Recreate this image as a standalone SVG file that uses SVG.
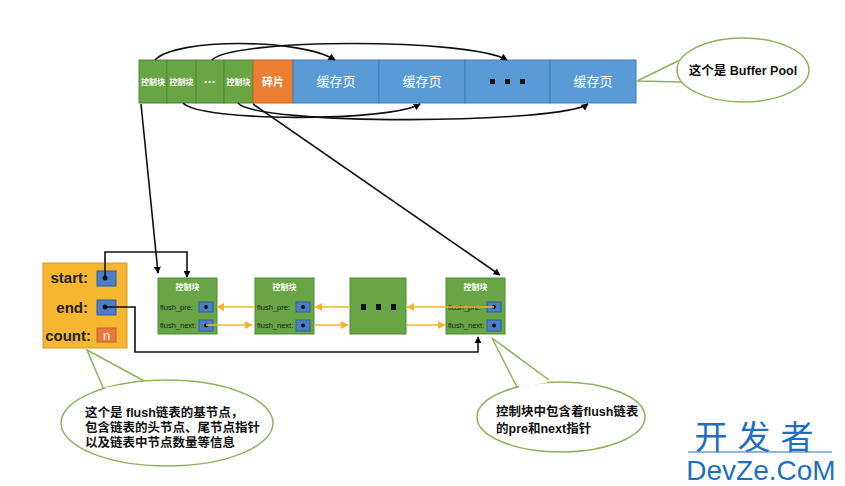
<svg xmlns="http://www.w3.org/2000/svg" width="845" height="486" viewBox="0 0 845 486">
<defs>
<marker id="ab" viewBox="0 0 10 10" refX="9" refY="5" markerWidth="7" markerHeight="7" orient="auto" markerUnits="userSpaceOnUse"><path d="M0,0 L10,5 L0,10 z" fill="#000"/></marker>
<marker id="ay" viewBox="0 0 10 10" refX="9" refY="5" markerWidth="8" markerHeight="8" orient="auto" markerUnits="userSpaceOnUse"><path d="M0,0 L10,5 L0,10 z" fill="#F2B431"/></marker>
</defs>
<style>
.t{font-family:"Liberation Sans","Noto Sans CJK SC",sans-serif}
.g{fill:#69A544;stroke:#4F8A35;stroke-width:1}
.b{fill:#5B9BD5;stroke:#3F7DB5;stroke-width:1}
.cb{fill:#fff;font-size:8px;font-weight:bold;text-anchor:middle}
.hy{fill:#fff;font-size:13px;text-anchor:middle}
.fl{fill:#1a1a1a;font-size:7.5px}
.sq{fill:#4A7FC8;stroke:#2F5E9E;stroke-width:1}
.dot{fill:#111}
.blk{fill:none;stroke:#111;stroke-width:1.6}
.yl{fill:none;stroke:#F2B431;stroke-width:1.6}
.bub{fill:#fff;stroke:#8DB35C;stroke-width:1.5}
.bt{fill:#111;font-size:12.5px;font-weight:bold}
</style>
<rect width="845" height="486" fill="#fff"/>

<g id="bufferpool">
<rect class="g" x="139" y="60" width="28" height="43"/>
<rect class="g" x="167" y="60" width="29" height="43"/>
<rect class="g" x="196" y="60" width="28" height="43"/>
<rect class="g" x="224" y="60" width="29" height="43"/>
<rect x="253" y="60" width="40" height="43" fill="#ED7D31" stroke="#C9652A"/>
<rect class="b" x="293" y="60" width="86" height="43"/>
<rect class="b" x="379" y="60" width="86" height="43"/>
<rect class="b" x="465" y="60" width="85" height="43"/>
<rect class="b" x="550" y="60" width="86" height="43"/>
<text class="t cb" x="153" y="85">控制块</text>
<text class="t cb" x="181.5" y="85">控制块</text>
<text class="t" x="210" y="86" fill="#fff" font-size="12" font-weight="bold" text-anchor="middle">···</text>
<text class="t cb" x="238.5" y="85">控制块</text>
<text class="t" x="273" y="86" fill="#fff" font-size="11" font-weight="bold" text-anchor="middle">碎片</text>
<text class="t hy" x="336" y="86">缓存页</text>
<text class="t hy" x="422" y="86">缓存页</text>
<rect x="490" y="79" width="5" height="5" fill="#111"/>
<rect x="505" y="79" width="5" height="5" fill="#111"/>
<rect x="520" y="79" width="5" height="5" fill="#111"/>
<text class="t hy" x="593" y="86">缓存页</text>
</g>

<g id="callout-bufferpool">
<path class="bub" d="M680,60 L637,81 L683,82"/>
<ellipse class="bub" cx="743" cy="70" rx="66" ry="32"/>
<path d="M681,61 L683,81" stroke="#fff" stroke-width="3"/>
<text class="t bt" x="743" y="75" text-anchor="middle">这个是 Buffer Pool</text>
</g>

<g id="base-node">
<rect x="43" y="263" width="84" height="85" fill="#F5B730" stroke="#D89A20" stroke-width="1"/>
<text class="t" x="88" y="283" font-size="15" font-weight="bold" fill="#222" text-anchor="end">start:</text>
<text class="t" x="88" y="313" font-size="15" font-weight="bold" fill="#222" text-anchor="end">end:</text>
<text class="t" x="91" y="341" font-size="15" font-weight="bold" fill="#222" text-anchor="end">count:</text>
<rect class="sq" x="97" y="271" width="19" height="15"/>
<circle class="dot" cx="105" cy="278" r="2.5"/>
<rect class="sq" x="97" y="300" width="19" height="15"/>
<circle class="dot" cx="105" cy="307" r="2.5"/>
<rect x="97" y="328" width="19" height="14" fill="#E8793A" stroke="#C9652A"/>
<text class="t" x="106.5" y="340" font-size="13" fill="#fff" text-anchor="middle">n</text>
</g>

<g id="node1">
<rect class="g" x="158" y="278" width="59" height="56"/>
<text class="t cb" x="187.5" y="290">控制块</text>
<text class="t fl" x="160" y="310">flush_pre:</text>
<text class="t fl" x="160" y="328">flush_next:</text>
<rect class="sq" x="199" y="302" width="14" height="10"/>
<circle class="dot" cx="206" cy="307" r="2"/>
<rect class="sq" x="199" y="320" width="14" height="11"/>
<circle class="dot" cx="206" cy="325.5" r="2"/>
</g>

<g id="node2">
<rect class="g" x="255" y="278" width="59" height="56"/>
<text class="t cb" x="284.5" y="290">控制块</text>
<text class="t fl" x="257" y="310">flush_pre:</text>
<text class="t fl" x="257" y="328">flush_next:</text>
<rect class="sq" x="296" y="302" width="14" height="10"/>
<circle class="dot" cx="303" cy="307" r="2"/>
<rect class="sq" x="296" y="320" width="14" height="11"/>
<circle class="dot" cx="303" cy="325.5" r="2"/>
</g>

<g id="node3">
<rect class="g" x="350" y="278" width="56" height="56"/>
<rect x="361" y="304" width="5" height="6" fill="#111"/>
<rect x="376" y="304" width="5" height="6" fill="#111"/>
<rect x="391" y="304" width="5" height="6" fill="#111"/>
</g>

<g id="node4">
<rect class="g" x="446" y="278" width="59" height="56"/>
<text class="t cb" x="475.5" y="290">控制块</text>
<text class="t fl" x="448" y="310">flush_pre:</text>
<text class="t fl" x="448" y="328">flush_next:</text>
<rect class="sq" x="487" y="302" width="14" height="10"/>
<circle class="dot" cx="494" cy="307" r="2"/>
<rect class="sq" x="487" y="320" width="14" height="11"/>
<circle class="dot" cx="494" cy="325.5" r="2"/>
</g>

<g id="connectors">
<path class="blk" d="M155,60 C175,38 300,38 335,60" marker-end="url(#ab)"/>
<path class="blk" d="M212,60 C232,38 470,38 507,60" marker-end="url(#ab)"/>
<path class="blk" d="M183,103 C200,122 390,122 420,104" marker-end="url(#ab)"/>
<path class="blk" d="M238,103 C258,126 560,124 588,104" marker-end="url(#ab)"/>
<path class="blk" d="M141,104 L158,273" marker-end="url(#ab)"/>
<path class="blk" d="M253,104 L500,275" marker-end="url(#ab)"/>
<path class="blk" d="M105,278 L105,252 L187,252 L187,277" marker-end="url(#ab)"/>
<path class="blk" d="M105,307 L135,307 L135,352 L478,352 L478,337" marker-end="url(#ab)"/>
<path class="yl" d="M255,307 L217,307" marker-end="url(#ay)"/>
<path class="yl" d="M350,307 L315,307" marker-end="url(#ay)"/>
<path class="yl" d="M494,307 L407,307" marker-end="url(#ay)"/>
<path class="yl" d="M206,325 L252,325" marker-end="url(#ay)"/>
<path class="yl" d="M314,325 L348,325" marker-end="url(#ay)"/>
<path class="yl" d="M406,325 L445,325" marker-end="url(#ay)"/>
</g>

<g id="callout-base">
<path class="bub" d="M104,390 L87,350 L148,383"/>
<ellipse class="bub" cx="167" cy="423" rx="106" ry="43"/>
<path d="M106,389 L146,383" stroke="#fff" stroke-width="3"/>
<text class="t bt" x="85" y="417">这个是 flush链表的基节点，</text>
<text class="t bt" x="85" y="432">包含链表的头节点、尾节点指针</text>
<text class="t bt" x="85" y="447">以及链表中节点数量等信息</text>
</g>

<g id="callout-node">
<path class="bub" d="M517,387 L492,338 L549,380"/>
<ellipse class="bub" cx="561" cy="417" rx="84" ry="35"/>
<path d="M519,386 L547,381" stroke="#fff" stroke-width="3"/>
<text class="t bt" x="496" y="416">控制块中包含着flush链表</text>
<text class="t bt" x="496" y="433">的pre和next指针</text>
</g>

<g id="watermark">
<text class="t" x="759" y="449" font-size="33" fill="#1F6FC0" text-anchor="middle" letter-spacing="10">开发者</text>
<line x1="688" y1="452" x2="832" y2="452" stroke="#1F6FC0" stroke-width="1"/>
<text class="t" x="761" y="480" font-size="28" fill="#1F6FC0" text-anchor="middle">DevZe.CoM</text>
</g>
</svg>
